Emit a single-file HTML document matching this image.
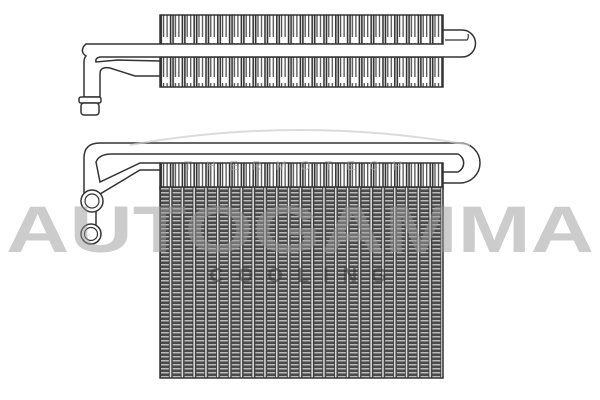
<!DOCTYPE html>
<html><head><style>html,body{margin:0;padding:0;background:#fff;width:600px;height:400px;overflow:hidden}</style></head>
<body>
<svg width="600" height="400" viewBox="0 0 600 400" xmlns="http://www.w3.org/2000/svg">
<defs>
<pattern id="fin" x="160" y="0" width="11.8" height="40" patternUnits="userSpaceOnUse">
<rect width="11.8" height="40" fill="#fff"/>
<rect x="0.5" y="0" width="1.6" height="40" fill="#333"/>
<rect x="3" y="3" width="1.2" height="34" fill="#444"/>
<rect x="6.5" y="3" width="1.2" height="34" fill="#444"/>
<rect x="9.8" y="0" width="1.6" height="40" fill="#333"/>
</pattern>
<pattern id="core" x="160" y="0" width="11.8" height="4" patternUnits="userSpaceOnUse">
<rect width="11.8" height="4" fill="#4a4a4a"/>
<rect x="1" y="0" width="8" height="1.5" fill="#bbb"/>
<rect x="9.3" y="0" width="2.2" height="4" fill="#e0e0e0"/>
<rect x="9" y="0" width="0.7" height="4" fill="#222"/>
<rect x="11.4" y="0" width="0.5" height="4" fill="#222"/>
</pattern>
</defs>
<!-- TOP UNIT -->
<rect x="160" y="15" width="283" height="30" fill="url(#fin)" stroke="#333" stroke-width="1.5"/>
<rect x="160" y="57" width="283" height="30" fill="url(#fin)" stroke="#333" stroke-width="1.5"/>
<path d="M86,44 L443,44 L443,30 L462,30 A13,13 0 0 1 462,57 L100,57 Q95,58 96,62 L118,60 L160,61 L160,76 L135,76 L110,68 Q100,66 100,74 L100,97 L84,97 L84,62 Q84,58 86,56 Q80,52 84,46 Z" fill="#fff" stroke="#333" stroke-width="1.5"/>
<path d="M445,40 L467,40 Q469,38 468,34" fill="none" stroke="#333" stroke-width="1.2"/>
<rect x="79" y="97" width="22" height="6" rx="2" fill="#fff" stroke="#333" stroke-width="1.5"/>
<rect x="81" y="103" width="18" height="12" rx="3" fill="#fff" stroke="#333" stroke-width="1.5"/>
<!-- BOTTOM UNIT -->
<rect x="160" y="163" width="283" height="26" fill="url(#fin)" stroke="#333" stroke-width="1.5"/>
<rect x="160" y="187" width="283" height="191" fill="url(#core)" stroke="#333" stroke-width="1.5"/>
<path d="M84,196 L84,158 Q84,143 100,143 L460,143 A20,20 0 0 1 460,183 L443,183 L443,172 L458,172 A10,10 0 0 0 458,154 L112,154 Q99,154 96,162 L100,182 L140,163 L160,163 L160,170 L140,170 L100,194 L84,196 Z" fill="#fff" stroke="#333" stroke-width="1.5"/>
<line x1="96" y1="200" x2="96" y2="225" stroke="#333" stroke-width="1.5"/>
<circle cx="92" cy="201" r="11" fill="#fff" stroke="#333" stroke-width="1.5"/>
<circle cx="92" cy="201" r="7" fill="#fff" stroke="#333" stroke-width="1.2"/>
<circle cx="91" cy="234" r="10" fill="#fff" stroke="#333" stroke-width="1.5"/>
<circle cx="91" cy="234" r="6.5" fill="#fff" stroke="#333" stroke-width="1.2"/>
<!-- WATERMARK -->
<path d="M130,145 Q300,115 470,145" fill="none" stroke="#ccc" stroke-width="2" opacity="0.7"/>
<text x="300" y="252" text-anchor="middle" font-family="Liberation Sans, sans-serif" font-size="66" font-weight="bold" fill="#9a9a9a" opacity="0.5" textLength="588" lengthAdjust="spacingAndGlyphs">AUTOGAMMA</text>
<text x="305" y="282" text-anchor="middle" font-family="Liberation Sans, sans-serif" font-size="20" font-weight="bold" fill="#333" opacity="0.5" letter-spacing="14">COOLING</text>
<text x="300" y="170" text-anchor="middle" font-family="Liberation Sans, sans-serif" font-size="13" fill="#aaa" opacity="0.6" letter-spacing="14">THERMOTECH</text>
</svg>
</body></html>
